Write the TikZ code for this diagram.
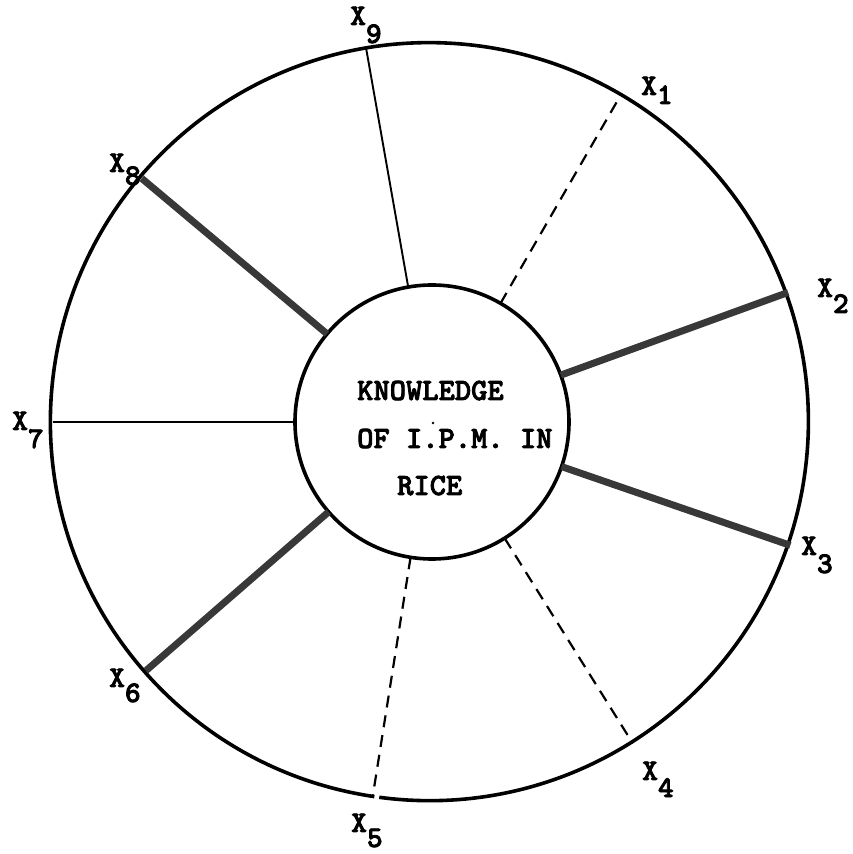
\documentclass[tikz,border=0pt]{standalone}
\usepackage{fontspec}
\newfontfamily\tw[FakeBold=2.6]{lmmonolt10-bold.otf}
\begin{document}
\begin{tikzpicture}[x=1pt,y=1pt,
  ring/.style={circle,inner sep=0pt,outer sep=0pt},
  thinspoke/.style={line width=1.9pt,black},
  thickspoke/.style={line width=7pt,black!78},
  dashspoke/.style={line width=2.2pt,black,dash pattern=on 12pt off 8pt},
  lab/.style={inner sep=0pt,anchor=base west,font=\tw\fontsize{30}{30}\selectfont},
  ctext/.style={inner sep=0pt,anchor=base west,font=\tw\fontsize{31}{31}\selectfont}]
\useasboundingbox (0,0) rectangle (852,854);
\node[ring,minimum size=758pt] (o) at (432,432) {};
\node[ring,draw,line width=3.6pt,minimum size=274pt] (c) at (432,432) {};
\draw[line width=3.6pt] (o.262.4) arc[start angle=262.4,end angle=621.65,radius=379pt];
% spokes
\draw[thinspoke] (c.100.2) -- (o.100.2);
\draw[dashspoke] (c.60) -- (o.60);
\draw[thickspoke] (c.20.3) -- (o.20.3);
\draw[thickspoke] (c.-19.2) -- (o.-19.2);
\draw[dashspoke] (c.-58.4) -- (o.-58.4);
\draw[dashspoke] (c.-99) -- (o.-99);
\draw[thickspoke] (c.-139) -- (o.-139);
\draw[thinspoke] (c.180.3) -- (o.180.3);
\draw[thickspoke] (c.140.4) -- (o.140.4);
% centre dot
\fill (433,431) circle[radius=1.4pt];
% centre text
\node[ctext] (t1) at (357,454) {KNOWLEDGE};
\node[ctext] (t2) at (357,406) {OF I.P.M. IN};
\node[ctext] (t3) at (397,359) {RICE};
% labels
\node[lab] (l9) at (350,829) {X\raisebox{-18pt}{9}};
\node[lab] (l1) at (641,759) {X\raisebox{-9pt}{1}};
\node[lab] (l2) at (817,557) {X\raisebox{-16pt}{2}};
\node[lab] (l3) at (801,299) {X\raisebox{-18pt}{3}};
\node[lab] (l4) at (642,74) {X\raisebox{-17pt}{4}};
\node[lab] (l5) at (351,22) {X\raisebox{-15pt}{5}};
\node[lab] (l6) at (109,167) {X\raisebox{-15pt}{6}};
\node[lab] (l7) at (12,424) {X\raisebox{-18pt}{7}};
\node[lab] (l8) at (109,682) {X\raisebox{-13pt}{8}};
\end{tikzpicture}
\end{document}
